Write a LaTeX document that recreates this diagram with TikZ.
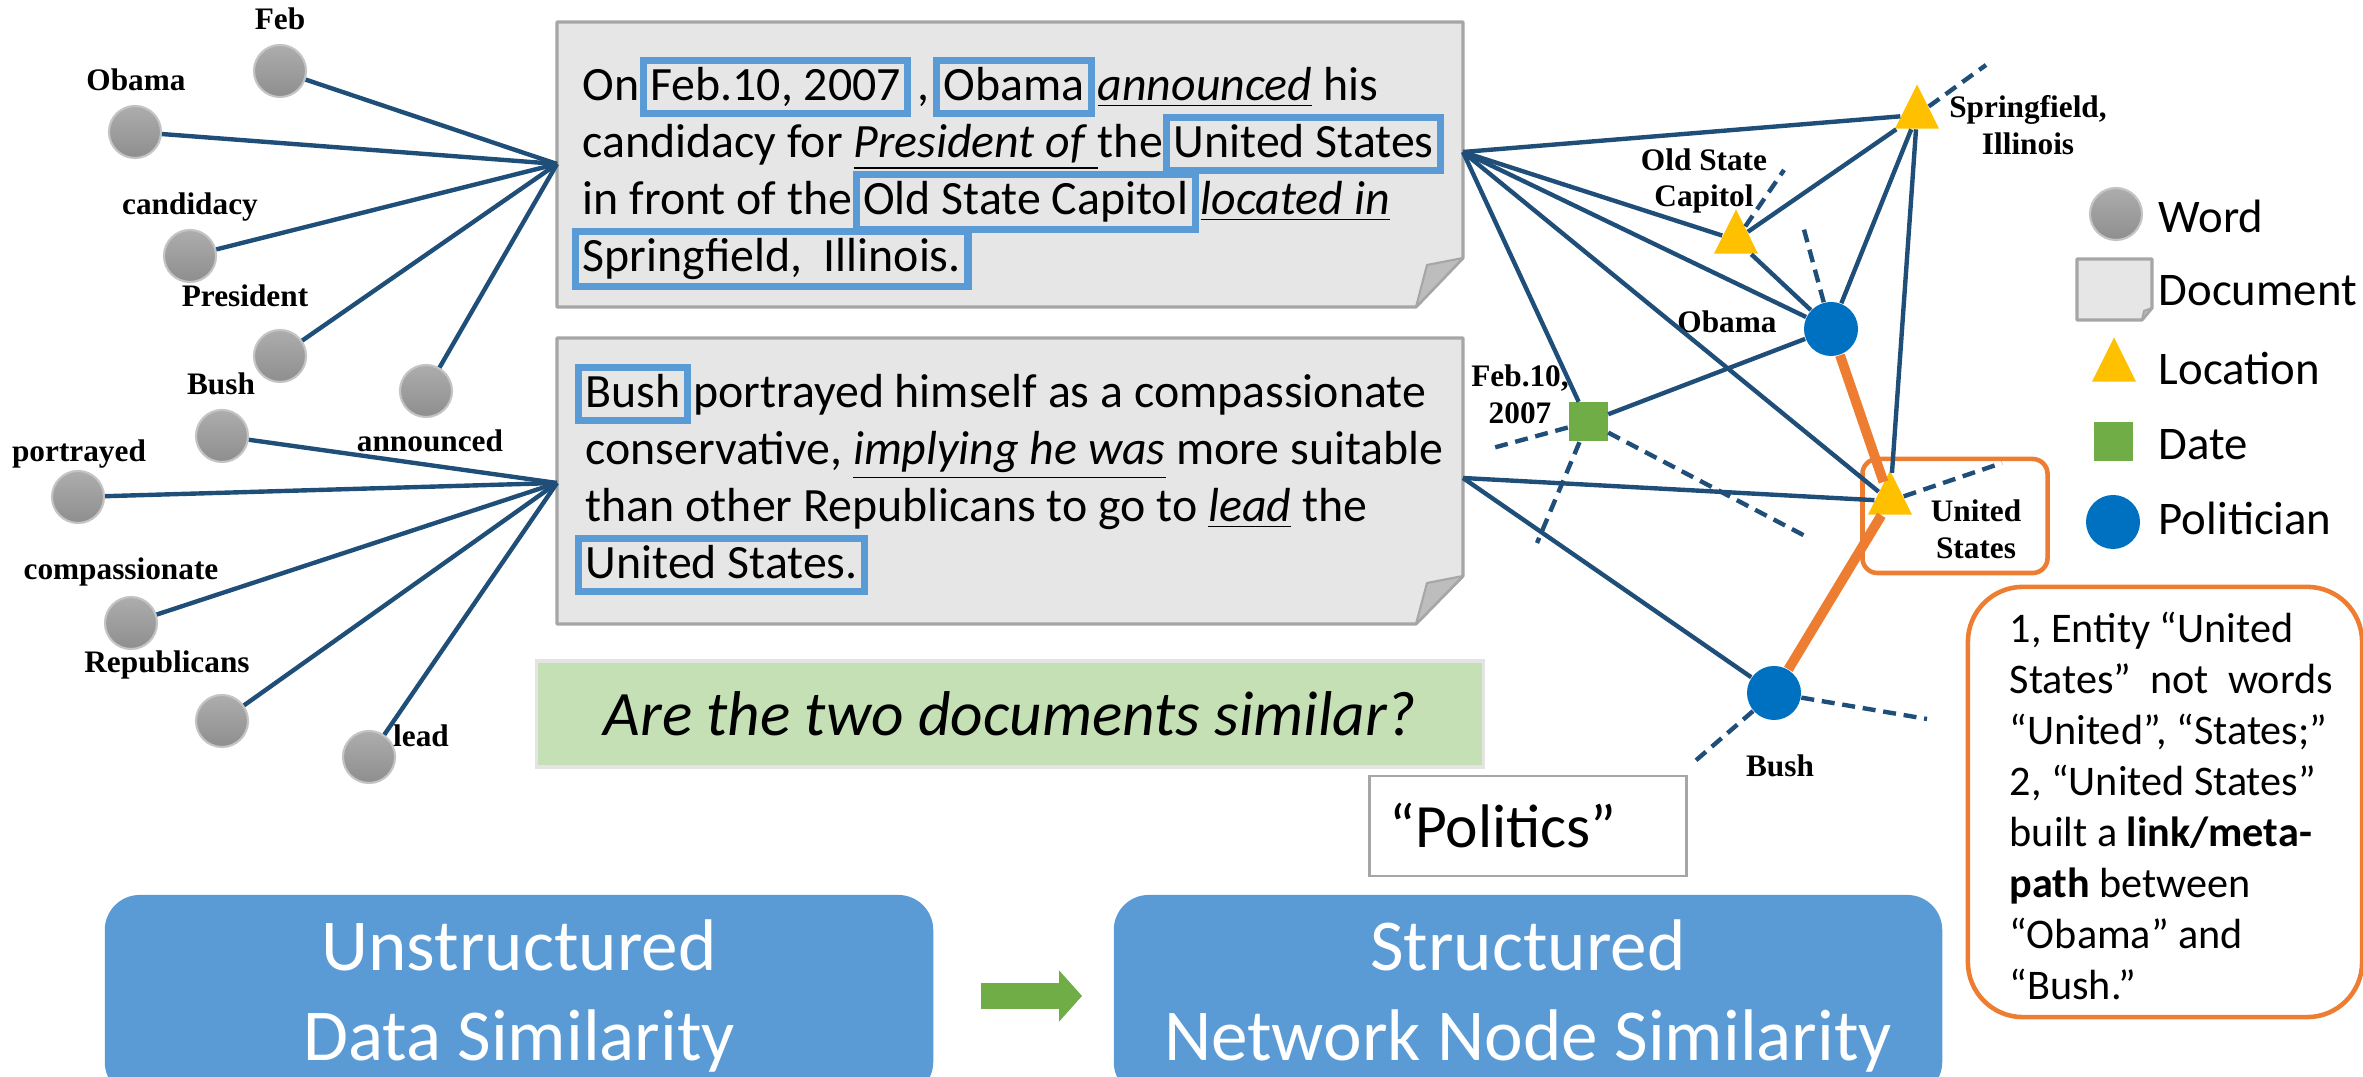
\documentclass[tikz,border=0pt]{standalone}
\usepackage{fontspec}
\setmainfont{Carlito}
\newfontfamily\tnr{Liberation Serif}
\definecolor{edge}{HTML}{1F4E79}
\definecolor{wtop}{HTML}{ADADAD}
\definecolor{wbot}{HTML}{8E8E8E}
\definecolor{wrim}{HTML}{C4C4C4}
\definecolor{polblue}{HTML}{0070C0}
\definecolor{locyel}{HTML}{FFC000}
\definecolor{dategrn}{HTML}{70AD47}
\definecolor{docfill}{HTML}{E7E6E6}
\definecolor{docrim}{HTML}{A6A6A6}
\definecolor{fold}{HTML}{BDBDBD}
\definecolor{hlblue}{HTML}{5B9BD5}
\definecolor{orng}{HTML}{ED7D31}
\definecolor{qgreen}{HTML}{C5E0B4}
\definecolor{qrim}{HTML}{E4E4E4}
\usetikzlibrary{shapes.geometric,arrows.meta}

\setlength{\fboxrule}{2pt}
\setlength{\fboxsep}{1pt}
\newcommand{\hlb}[1]{\hspace{-3pt}\fcolorbox{hlblue}{docfill}{\rule[-1.8pt]{0pt}{11pt}#1}}
\newcommand{\uit}[1]{\underline{\textit{#1}}}
\newcommand{\doctext}{\fontsize{13.6pt}{16.2pt}\selectfont\lineskiplimit=-20pt\relax}

\begin{document}
\begin{tikzpicture}[x=0.01cm, y=-0.01cm,
  wd/.style={circle, minimum size=0.52cm, inner sep=0pt, top color=wtop, bottom color=wbot, draw=wrim, line width=0.6pt},
  pol/.style={circle, minimum size=0.54cm, inner sep=0pt, fill=polblue},
  loc/.style={isosceles triangle, isosceles triangle apex angle=53, shape border rotate=90,
              minimum size=0.44cm, inner sep=0pt, fill=locyel},
  dat/.style={rectangle, minimum size=0.39cm, inner sep=0pt, fill=dategrn},
  ln/.style={draw=edge, line width=1.25pt},
  dl/.style={ln, dash pattern=on 3.7pt off 2.2pt},
  ol/.style={draw=orng, line width=2.8pt},
  lb/.style={font=\tnr\bfseries\fontsize{8.9pt}{10.5pt}\selectfont, inner sep=0pt, align=center},
  doc/.style={fill=docfill, draw=docrim, line width=0.9pt, line join=round},
  fld/.style={fill=fold, draw=docrim, line width=0.6pt, line join=round},
  txt/.style={font=\doctext, inner sep=0pt, align=left, anchor=north west},
  lg/.style={font=\fontsize{13.3pt}{16pt}\selectfont, inner sep=0pt, anchor=base west},
  obox/.style={draw=orng, line width=1.3pt, rounded corners=0.15cm},
  bx/.style={rectangle, rounded corners=0.35cm, fill=hlblue, text=white, font=\fontsize{20.8pt}{25.6pt}\selectfont,
             align=center, minimum width=8.28cm, minimum height=2.02cm},
  garrow/.style={draw=dategrn, line width=0.26cm, -{Triangle[length=0.23cm, width=0.5cm]}},
]
\useasboundingbox (0,0) rectangle (2363,1077);

% documents
\filldraw[doc] (557,22) -- (1463,22) -- (1463,258) -- (1416,307) -- (557,307) -- cycle;
\filldraw[fld] (1463,258) -- (1427,265) -- (1416,307) -- cycle;
\filldraw[doc] (557,338) -- (1463,338) -- (1463,576) -- (1416,624) -- (557,624) -- cycle;
\filldraw[fld] (1463,576) -- (1427,583) -- (1416,624) -- cycle;
\node[txt] (t1) at (582,56) {On \hlb{Feb.10, 2007}\hspace{1.7pt},\hspace{4.1pt}\hlb{Obama}\hspace{0.8pt}\uit{announced} his\\
  candidacy for \uit{President of }the \hlb{United States}\\
  in front of the \hlb{Old State Capitol}\hspace{0.6pt}\uit{located in}\\
  \hlb{Springfield,\ \ Illinois.}};
\node[txt] (t2) at (585,363) {\hlb{Bush}\hspace{0.6pt}portrayed himself as a compassionate\\
  conservative, \uit{implying he was} more suitable\\
  than other Republicans to go to \uit{lead} the\\
  \hlb{United States.}};
\coordinate (h1l) at (557,164); \coordinate (h2l) at (557,483);
\coordinate (h1r) at (1463,152); \coordinate (h2r) at (1463,478);

% word nodes
\node[wd] (wfeb) at (280,71) {};  \node[wd] (wobm) at (135,132) {};
\node[wd] (wcan) at (190,256) {}; \node[wd] (wpre) at (280,356) {};
\node[wd] (wann) at (426,391) {}; \node[wd] (wbsh) at (222,436) {};
\node[wd] (wpor) at (78,497) {};  \node[wd] (wcom) at (131,623) {};
\node[wd] (wrep) at (222,721) {}; \node[wd] (wlea) at (369,757) {};
\node[lb, anchor=base] (lfeb) at (280,30) {Feb};
\node[lb, anchor=base] (lobm) at (136,91) {Obama};
\node[lb, anchor=base] (lcan) at (190,215) {candidacy};
\node[lb, anchor=base] (lpre) at (245,307) {President};
\node[lb, anchor=base] (lbsh) at (221,395) {Bush};
\node[lb, anchor=base] (lann) at (430,452) {announced};
\node[lb, anchor=base] (lpor) at (79,462) {portrayed};
\node[lb, anchor=base] (lcom) at (121,580) {compassionate};
\node[lb, anchor=base] (lrep) at (167,673) {Republicans};
\node[lb, anchor=base] (llea) at (421,747) {lead};
\foreach \w in {wfeb,wobm,wcan,wpre,wann} \draw[ln] (\w) -- (h1l);
\foreach \w in {wbsh,wpor,wcom,wrep,wlea} \draw[ln] (\w) -- (h2l);

% entity network
\node[loc] (spr) at (1917,115) {};
\node[loc] (osc) at (1736,240) {};
\node[loc] (us) at (1890,501) {};
\node[pol] (oba) at (1831,329) {};
\node[pol] (bsh) at (1774,693) {};
\node[dat] (fdt) at (1588,422) {};
\node[lb] (lspr) at (2028,125) {Springfield,\\Illinois};
\node[lb] (losc) at (1704,181) {Old State\\Capitol};
\node[lb, anchor=base] (loba) at (1727,333) {Obama};
\node[lb] (lfdt) at (1520,394) {Feb.10,\\2007};
\node[lb] (lus) at (1976,529) {United\\States};
\node[lb, anchor=base] (lbs) at (1780,777) {Bush};
\node[obox, minimum width=1.85cm, minimum height=1.14cm] (usbox) at (1955,516) {};
\coordinate (sd) at (1986,65); \coordinate (od) at (1784,170); \coordinate (obd) at (1803,226);
\coordinate (fd1) at (1489,449); \coordinate (fd2) at (1537,543); \coordinate (fd3) at (1807,537);
\coordinate (ud) at (2002,463); \coordinate (bd1) at (1927,719); \coordinate (bd2) at (1694,762);
\foreach \n in {spr,osc,oba,us,fdt} \draw[ln] (h1r) -- (\n);
\draw[ln] (h2r) -- (us); \draw[ln] (h2r) -- (bsh);
\draw[ln] (osc) -- (spr); \draw[ln] (osc) -- (oba); \draw[ln] (oba) -- (spr);
\draw[ln] (spr) -- (us); \draw[ln] (oba) -- (fdt);
\draw[dl] (spr) -- (sd); \draw[dl] (osc) -- (od); \draw[dl] (oba) -- (obd);
\draw[dl] (fdt) -- (fd1); \draw[dl] (fdt) -- (fd2); \draw[dl] (fdt) -- (fd3);
\draw[dl] (us) -- (ud); \draw[dl] (bsh) -- (bd1); \draw[dl] (bsh) -- (bd2);
\draw[ol] (oba) -- (us); \draw[ol] (us) -- (bsh);

% legend
\node[wd] (kw) at (2116,214) {};
\filldraw[doc] (2077,259) -- (2152,259) -- (2152,308) -- (2142,320) -- (2077,320) -- cycle;
\filldraw[fld] (2152,308) -- (2144,311) -- (2142,320) -- cycle;
\node[loc] (kl) at (2114,368) {};
\node[dat] (kd) at (2113,442) {};
\node[pol] (kp) at (2113,522) {};
\node[lg] (kwt) at (2158,233) {Word};
\node[lg] (kdt) at (2158,306) {Document};
\node[lg] (klt) at (2158,385) {Location};
\node[lg] (kdd) at (2158,460) {Date};
\node[lg] (kpt) at (2158,535) {Politician};

% note
\node[obox, rounded corners=0.55cm, minimum width=3.94cm, minimum height=4.3cm] (note) at (2165,802) {};
\node[txt, font=\fontsize{12pt}{14.5pt}\selectfont] (notet) at (2009,611) {1, Entity “United\\
  States”\ \ not\ \ words\\ “United”, “States;”\\ 2, “United States”\\
  built a \textbf{link/meta-}\\ \textbf{path} between\\ “Obama” and\\ “Bush.”};

% question and topic
\node[rectangle, fill=qgreen, draw=qrim, line width=1pt, minimum width=9.46cm, minimum height=1.06cm,
      font=\fontsize{18pt}{22pt}\selectfont\itshape] (q) at (1010,714) {Are the two documents similar?};
\node[rectangle, fill=white, draw=docrim, line width=0.8pt, minimum height=1cm, inner xsep=0.2cm,
      text width=2.77cm, align=left, font=\fontsize{17.5pt}{21pt}\selectfont] (topic) at (1528,826) {“Politics”};

% bottom
\node[bx] (uds) at (519,996) {Unstructured\\Data Similarity};
\node[bx] (sns) at (1528,996) {Structured\\Network Node Similarity};
\draw[garrow, shorten <=0.47cm, shorten >=0.31cm] (uds) -- (sns);
\end{tikzpicture}
\end{document}
